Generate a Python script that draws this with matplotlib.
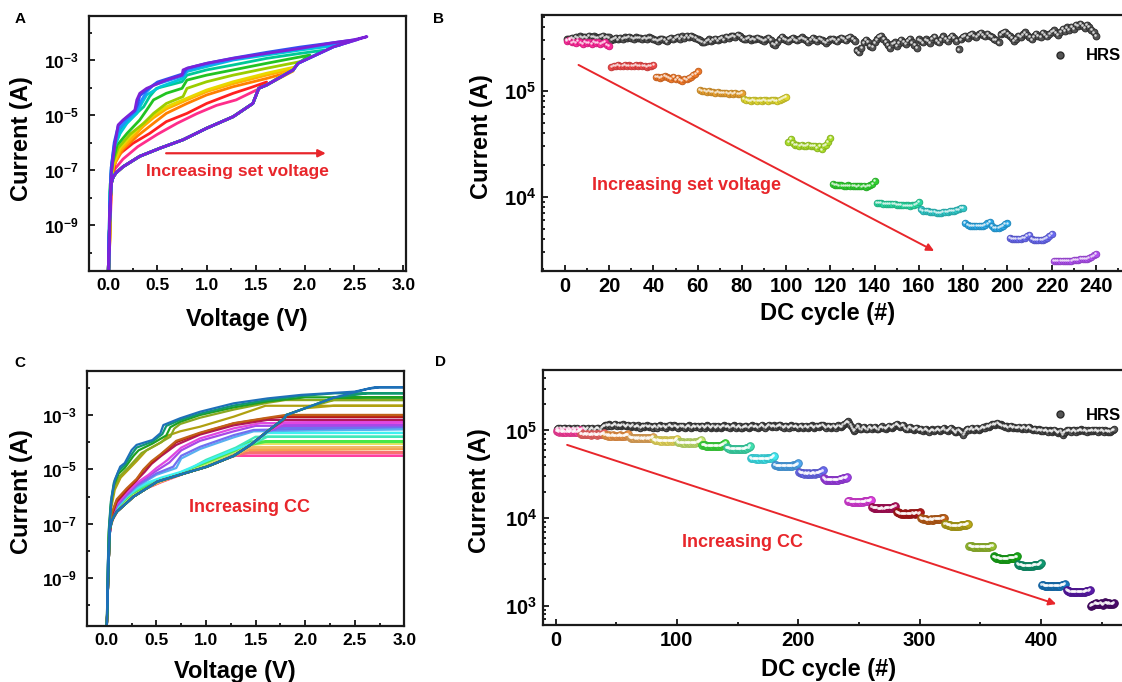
import numpy as np
import matplotlib
matplotlib.use("Agg")
import matplotlib.pyplot as plt
import matplotlib.transforms as mtransforms
import matplotlib.colors as mcolors
from matplotlib.ticker import MultipleLocator, FixedLocator, FuncFormatter, NullFormatter, LogLocator
from matplotlib.lines import Line2D

plt.rcParams['font.family'] = ['Liberation Sans', 'DejaVu Sans']
plt.rcParams['font.weight'] = 'bold'
plt.rcParams['mathtext.fontset'] = 'custom'
plt.rcParams['mathtext.rm'] = 'Liberation Sans:bold'
plt.rcParams['mathtext.bf'] = 'Liberation Sans:bold'
plt.rcParams['mathtext.it'] = 'Liberation Sans:bold'

# ---------------- Panel A data (I-V loops, log10 current) ----------------
A_FWD_V = [0.0, 0.01, 0.02, 0.03, 0.05, 0.08, 0.15, 0.32, 0.53, 0.76, 1.0, 1.27, 1.47, 1.53, 1.61, 1.88, 1.93, 2.29, 2.63]
A_FWD_LOG = [-10.6, -9.3, -8.2, -7.5, -7.25, -7.1, -6.88, -6.5, -6.2, -5.9, -5.48, -5.06, -4.58, -4.03, -3.91, -3.36, -3.12, -2.52, -2.15]
A_COLORS = ['#FF2D8A', '#FF2020', '#FF7F00', '#FFB000', '#E8D800', '#9ACD00',
            '#22C322', '#00C896', '#00C8D8', '#1E90FF', '#3050F0', '#7B22D8']
A_UP_V = [
    [1.53, 1.30, 1.10, 0.90, 0.70, 0.50, 0.30, 0.15, 0.07, 0.03, 0.01],
    [1.61, 1.45, 1.27, 1.0, 0.8, 0.59, 0.42, 0.25, 0.085, 0.034, 0.007],
    [1.88, 1.61, 1.27, 1.0, 0.8, 0.59, 0.46, 0.3, 0.15, 0.06, 0.03, 0.01],
    [1.85, 1.61, 1.27, 1.0, 0.8, 0.59, 0.46, 0.36, 0.25, 0.12, 0.05, 0.025, 0.01],
    [1.90, 1.61, 1.27, 1.0, 0.8, 0.59, 0.46, 0.36, 0.25, 0.12, 0.05, 0.025, 0.01],
    [1.95, 1.61, 1.27, 1.0, 0.8, 0.76, 0.59, 0.46, 0.36, 0.22, 0.1, 0.05, 0.025, 0.01],
    [2.05, 1.61, 1.27, 1.0, 0.8, 0.75, 0.59, 0.46, 0.39, 0.32, 0.19, 0.09, 0.045, 0.02, 0.008],
    [2.20, 1.95, 1.61, 1.27, 1.0, 0.8, 0.75, 0.49, 0.42, 0.36, 0.25, 0.15, 0.07, 0.035, 0.015, 0.005],
    [2.36, 1.95, 1.61, 1.27, 1.0, 0.8, 0.76, 0.53, 0.39, 0.34, 0.29, 0.19, 0.12, 0.06, 0.03, 0.012, 0.005],
    [2.46, 1.95, 1.61, 1.27, 1.0, 0.8, 0.76, 0.46, 0.39, 0.34, 0.29, 0.19, 0.11, 0.06, 0.03, 0.012, 0.004],
    [2.54, 1.95, 1.61, 1.27, 1.0, 0.8, 0.76, 0.5, 0.4, 0.32, 0.3, 0.27, 0.15, 0.1, 0.06, 0.03, 0.012, 0.004],
    [2.63, 2.49, 2.29, 1.95, 1.61, 1.27, 1.0, 0.8, 0.76, 0.75, 0.59, 0.39, 0.32, 0.29, 0.27, 0.15, 0.10, 0.07, 0.03, 0.017, 0.007],
]
A_UP_LOG = [
    [-4.05, -4.45, -4.65, -4.95, -5.3, -5.7, -6.15, -6.6, -6.95, -7.5, -10.0],
    [-3.80, -4.0, -4.21, -4.58, -4.94, -5.24, -5.67, -6.03, -6.5, -7.36, -10.6],
    [-3.40, -3.67, -3.97, -4.27, -4.58, -4.94, -5.3, -5.75, -6.25, -6.8, -7.4, -10.2],
    [-3.35, -3.55, -3.86, -4.15, -4.45, -4.78, -5.1, -5.4, -5.8, -6.3, -6.9, -7.6, -10.4],
    [-3.25, -3.48, -3.79, -4.09, -4.39, -4.7, -5.0, -5.3, -5.67, -6.2, -6.8, -7.5, -10.5],
    [-3.06, -3.3, -3.55, -3.79, -4.03, -4.33, -4.58, -4.94, -5.3, -5.7, -6.2, -6.7, -7.4, -10.5],
    [-2.82, -3.12, -3.36, -3.55, -3.73, -4.03, -4.21, -4.45, -4.82, -5.18, -5.67, -6.1, -6.7, -7.5, -10.6],
    [-2.64, -2.76, -2.94, -3.18, -3.36, -3.55, -3.79, -4.03, -4.33, -4.7, -5.06, -5.42, -6.0, -6.8, -7.8, -10.6],
    [-2.45, -2.64, -2.82, -3.0, -3.24, -3.42, -3.67, -3.97, -4.27, -4.58, -4.94, -5.3, -5.67, -6.2, -7.0, -8.5, -10.6],
    [-2.33, -2.58, -2.76, -2.98, -3.18, -3.36, -3.58, -3.91, -4.15, -4.45, -4.82, -5.18, -5.5, -6.1, -6.9, -8.5, -10.6],
    [-2.25, -2.53, -2.72, -2.93, -3.12, -3.3, -3.5, -3.8, -4.06, -4.3, -4.6, -4.85, -5.2, -5.4, -6.0, -6.9, -8.5, -10.6],
    [-2.15, -2.27, -2.37, -2.58, -2.76, -2.94, -3.12, -3.3, -3.36, -3.55, -3.73, -4.03, -4.21, -4.45, -4.82, -5.18, -5.36, -6.03, -7.12, -8.7, -10.6],
]

# ---------------- Panel C data (I-V with compliance current) ----------------
C_FWD_V = [0.0, 0.01, 0.02, 0.03, 0.05, 0.07, 0.10, 0.27, 0.51, 0.78, 1.01, 1.28, 1.45, 1.62, 1.79, 1.81, 2.0, 2.29, 2.63, 2.75, 3.0]
C_FWD_LOG = [-10.75, -9.5, -8.3, -7.2, -6.9, -6.74, -6.56, -6.0, -5.45, -5.15, -4.9, -4.5, -4.1, -3.6, -3.12, -3.0, -2.75, -2.36, -2.04, -1.98, -1.98]
C_CC_LOG = [-4.50, -4.38, -4.25, -4.18, -4.05, -4.0, -3.97, -3.8, -3.66, -3.52, -3.44,
            -3.37, -3.27, -3.18, -3.06, -3.0, -2.66, -2.45, -2.35, -2.2, -1.98]
C_COLORS = ['#FF40A0', '#F87070', '#F5A050', '#F0B868', '#ECE060', '#C0EC70', '#48E848',
            '#40E8B8', '#40F0F0', '#58B0F0', '#7070F0', '#A848E8', '#E048E0', '#B0185A',
            '#B81818', '#C06018', '#B0A010', '#8AA820', '#20A020', '#109870', '#1E70B8']
C_UP_V = [
    [1.3, 1.1, 0.9, 0.75, 0.55, 0.4, 0.25, 0.12, 0.06, 0.03, 0.01, 0.0],
    [1.3, 1.1, 0.9, 0.75, 0.55, 0.4, 0.25, 0.12, 0.06, 0.03, 0.01, 0.0],
    [1.3, 1.15, 1.0, 0.75, 0.55, 0.4, 0.25, 0.12, 0.06, 0.03, 0.01, 0.0],
    [1.35, 1.2, 1.0, 0.75, 0.55, 0.4, 0.25, 0.12, 0.06, 0.03, 0.01, 0.0],
    [1.4, 1.25, 1.0, 0.75, 0.55, 0.4, 0.25, 0.12, 0.06, 0.03, 0.01, 0.0],
    [1.45, 1.3, 1.0, 0.75, 0.55, 0.4, 0.25, 0.12, 0.06, 0.03, 0.01, 0.0],
    [1.45, 1.3, 1.0, 0.75, 0.55, 0.4, 0.25, 0.12, 0.06, 0.03, 0.01, 0.0],
    [1.5, 1.3, 1.0, 0.75, 0.55, 0.4, 0.3, 0.2, 0.1, 0.05, 0.025, 0.01, 0.0],
    [1.6, 1.45, 1.11, 0.74, 0.55, 0.4, 0.3, 0.2, 0.1, 0.05, 0.025, 0.01, 0.0],
    [1.48, 1.28, 0.94, 0.75, 0.7, 0.5, 0.4, 0.3, 0.2, 0.1, 0.05, 0.025, 0.01, 0.0],
    [1.48, 1.28, 0.94, 0.75, 0.67, 0.5, 0.4, 0.3, 0.2, 0.1, 0.05, 0.025, 0.01, 0.0],
    [1.5, 1.28, 0.94, 0.75, 0.63, 0.5, 0.4, 0.3, 0.2, 0.1, 0.05, 0.025, 0.01, 0.0],
    [1.55, 1.28, 0.94, 0.75, 0.61, 0.5, 0.42, 0.3, 0.2, 0.1, 0.05, 0.025, 0.01, 0.0],
    [1.62, 1.28, 0.94, 0.7, 0.55, 0.45, 0.38, 0.3, 0.2, 0.1, 0.05, 0.025, 0.01, 0.0],
    [1.79, 1.62, 1.28, 0.94, 0.7, 0.54, 0.45, 0.37, 0.3, 0.2, 0.1, 0.05, 0.025, 0.01, 0.0],
    [1.8, 1.62, 1.28, 0.94, 0.7, 0.54, 0.45, 0.37, 0.3, 0.2, 0.1, 0.05, 0.025, 0.01, 0.0],
    [1.6, 1.28, 0.94, 0.74, 0.62, 0.55, 0.4, 0.3, 0.22, 0.14, 0.08, 0.04, 0.02, 0.008, 0.0],
    [1.8, 1.62, 1.28, 0.94, 0.74, 0.68, 0.64, 0.5, 0.35, 0.3, 0.2, 0.13, 0.07, 0.04, 0.02, 0.008, 0.0],
    [2.0, 1.62, 1.28, 0.94, 0.74, 0.64, 0.6, 0.46, 0.32, 0.27, 0.18, 0.12, 0.07, 0.04, 0.02, 0.008, 0.0],
    [2.3, 1.96, 1.62, 1.28, 0.94, 0.74, 0.6, 0.56, 0.46, 0.3, 0.26, 0.18, 0.12, 0.07, 0.04, 0.02, 0.008, 0.0],
    [2.7, 2.5, 1.96, 1.62, 1.28, 0.94, 0.74, 0.57, 0.54, 0.46, 0.30, 0.25, 0.18, 0.135, 0.08, 0.05, 0.03, 0.01, 0.0],
]
C_UP_LOG = [
    [-4.5, -4.72, -5.0, -5.2, -5.47, -5.7, -6.0, -6.45, -6.85, -7.2, -9.3, -10.75],
    [-4.38, -4.65, -4.95, -5.18, -5.46, -5.7, -6.0, -6.45, -6.85, -7.2, -9.3, -10.75],
    [-4.3, -4.55, -4.87, -5.18, -5.45, -5.68, -5.98, -6.43, -6.83, -7.2, -9.3, -10.75],
    [-4.2, -4.5, -4.85, -5.17, -5.44, -5.67, -5.97, -6.42, -6.82, -7.2, -9.3, -10.75],
    [-4.05, -4.4, -4.82, -5.15, -5.42, -5.65, -5.95, -6.4, -6.8, -7.2, -9.3, -10.75],
    [-4.0, -4.35, -4.8, -5.12, -5.4, -5.62, -5.92, -6.38, -6.78, -7.2, -9.3, -10.75],
    [-3.97, -4.3, -4.75, -5.1, -5.38, -5.6, -5.9, -6.35, -6.75, -7.2, -9.3, -10.75],
    [-3.8, -4.2, -4.65, -5.15, -5.35, -5.55, -5.75, -6.02, -6.45, -6.85, -7.5, -9.3, -10.75],
    [-3.6, -4.04, -4.53, -5.1, -5.3, -5.5, -5.7, -6.0, -6.4, -6.85, -7.5, -9.3, -10.75],
    [-3.6, -3.82, -4.25, -4.6, -4.95, -5.2, -5.42, -5.65, -5.98, -6.38, -6.8, -7.5, -9.3, -10.75],
    [-3.55, -3.74, -4.17, -4.5, -4.9, -5.15, -5.38, -5.6, -5.95, -6.35, -6.8, -7.5, -9.3, -10.75],
    [-3.4, -3.6, -3.95, -4.3, -4.75, -5.05, -5.3, -5.55, -5.9, -6.3, -6.75, -7.5, -9.3, -10.75],
    [-3.3, -3.49, -3.86, -4.2, -4.66, -4.95, -5.2, -5.5, -5.85, -6.25, -6.7, -7.5, -9.3, -10.75],
    [-3.18, -3.38, -3.72, -4.1, -4.5, -4.8, -5.1, -5.4, -5.78, -6.2, -6.7, -7.5, -9.3, -10.75],
    [-3.04, -3.12, -3.31, -3.67, -4.0, -4.47, -4.75, -5.02, -5.39, -5.75, -6.15, -6.65, -7.5, -9.3, -10.75],
    [-3.0, -3.1, -3.3, -3.65, -3.95, -4.45, -4.7, -5.0, -5.35, -5.7, -6.1, -6.6, -7.5, -9.3, -10.75],
    [-2.66, -3.06, -3.43, -3.6, -3.75, -4.0, -4.3, -4.7, -5.0, -5.3, -5.75, -6.5, -7.5, -9.3, -10.75],
    [-2.45, -2.55, -2.8, -3.1, -3.33, -3.5, -3.8, -4.1, -4.4, -4.6, -5.0, -5.25, -5.7, -6.4, -7.4, -9.2, -10.75],
    [-2.35, -2.5, -2.72, -3.0, -3.25, -3.45, -3.75, -4.05, -4.3, -4.5, -4.95, -5.15, -5.6, -6.3, -7.3, -9.0, -10.75],
    [-2.2, -2.3, -2.45, -2.65, -2.95, -3.18, -3.4, -3.7, -3.98, -4.2, -4.4, -4.85, -5.05, -5.5, -6.2, -7.2, -8.8, -10.75],
    [-1.98, -2.14, -2.26, -2.39, -2.57, -2.88, -3.12, -3.37, -3.67, -3.92, -4.1, -4.29, -4.77, -4.9, -5.39, -6.0, -6.9, -8.5, -10.75],
]

# ---------------- Panel B data (resistance vs DC cycle) ----------------
B_HRS_E5 = [
    3.05, 3.10, 3.15, 3.08, 3.20, 3.12, 3.25, 3.18, 3.22, 3.15, 3.28, 3.20, 3.25, 3.18, 3.12, 3.20, 3.26, 3.15, 3.22, 3.18,
    3.02, 3.08, 3.12, 3.05, 3.15, 3.10, 3.18, 3.12, 3.20, 3.15, 3.10, 3.18, 3.12, 3.16, 3.08, 3.14, 3.10, 3.18, 3.12, 3.05,
    3.00, 2.95, 3.05, 3.10, 3.02, 2.92, 3.08, 3.15, 3.05, 3.12, 3.20, 3.10, 3.25, 3.15, 3.28, 3.18, 3.30, 3.22, 3.12, 3.05,
    2.98, 2.90, 2.85, 2.95, 3.05, 2.92, 3.02, 3.10, 2.98, 3.08, 3.15, 3.05, 3.20, 3.12, 3.25, 3.30, 3.20, 3.35, 3.28, 3.15,
    3.05, 3.10, 3.15, 3.00, 3.10, 3.05, 3.15, 3.08, 3.02, 2.95, 3.05, 3.12, 3.00, 2.75, 2.70, 2.85, 3.05, 3.20, 3.10, 3.02,
    2.95, 3.05, 3.15, 3.05, 2.98, 3.10, 3.18, 3.08, 3.00, 2.90, 3.02, 3.12, 3.05, 2.95, 3.08, 3.00, 2.92, 2.80, 2.95, 3.05,
    3.10, 3.00, 2.92, 3.05, 3.15, 3.08, 2.98, 3.12, 3.20, 3.10, 2.95, 2.40, 2.30, 2.55, 2.85, 3.00, 2.90, 2.65, 2.60, 2.85,
    3.05, 3.20, 3.30, 3.10, 2.90, 2.70, 2.55, 2.75, 2.85, 2.65, 2.80, 3.00, 2.90, 2.75, 2.95, 3.10, 2.85, 2.70, 2.55, 3.05,
    2.95, 2.85, 3.05, 2.95, 2.80, 3.10, 3.20, 2.95, 2.85, 3.05, 3.25, 3.10, 2.95, 3.15, 3.30, 3.15, 2.95, 2.45, 3.05, 3.20,
    3.30, 3.15, 3.35, 3.45, 3.30, 3.20, 3.40, 3.50, 3.35, 3.25, 3.45, 3.30, 3.20, 3.05, 3.00, 2.85, 3.40, 3.50, 3.60, 3.45,
    3.30, 3.15, 2.95, 3.10, 3.30, 3.20, 3.40, 3.55, 3.35, 3.20, 3.05, 3.25, 3.45, 3.30, 3.20, 3.50, 3.40, 3.25, 3.45, 3.60,
    3.70, 3.50, 3.35, 3.60, 3.80, 3.65, 3.95, 3.75, 4.00, 3.85, 4.20, 4.05, 4.30, 4.10, 3.90, 4.15, 4.00, 3.75, 3.55, 3.30,
]
B_LRS_E3 = [
    295, 300, 285, 290, 280, 295, 285, 275, 290, 280, 285, 275, 290, 280, 285, 275, 280, 290, 270, 265,
    168, 172, 170, 175, 172, 170, 174, 171, 173, 170, 172, 175, 171, 173, 170, 172, 168, 171, 170, 176,
    134, 136, 133, 135, 138, 134, 132, 130, 135, 128, 131, 126, 124, 130, 128, 133, 136, 140, 145, 152,
    101, 100, 99, 98, 99, 97, 98, 96, 97, 95, 96, 95, 96, 94, 95, 94, 95, 94, 94, 95,
    84, 82, 81, 80, 82, 81, 80, 81, 80, 82, 81, 80, 81, 82, 81, 80, 82, 83, 85, 87,
    33, 35, 32, 31, 31, 30, 31, 30, 30, 31, 30, 30, 30, 29, 30, 28, 30, 31, 33, 36,
    13.2, 13.0, 12.9, 12.8, 12.8, 12.7, 12.7, 12.8, 12.6, 12.6, 12.7, 12.5, 12.6, 12.5, 12.6, 12.4, 12.6, 12.8, 13.2, 14.2,
    8.8, 8.7, 8.7, 8.6, 8.6, 8.6, 8.5, 8.5, 8.5, 8.4, 8.4, 8.4, 8.3, 8.3, 8.3, 8.2, 8.3, 8.4, 8.6, 8.9,
    7.6, 7.4, 7.3, 7.3, 7.2, 7.2, 7.2, 7.1, 7.1, 7.1, 7.2, 7.2, 7.2, 7.3, 7.3, 7.4, 7.5, 7.6, 7.8, 7.9,
    5.7, 5.4, 5.3, 5.3, 5.3, 5.3, 5.3, 5.3, 5.3, 5.4, 5.6, 5.8, 5.3, 5.1, 5.1, 5.1, 5.2, 5.3, 5.5, 5.6,
    4.1, 4.0, 4.0, 4.0, 4.0, 4.0, 4.1, 4.1, 4.3, 4.4, 4.0, 3.9, 3.9, 3.9, 3.9, 3.9, 4.0, 4.1, 4.3, 4.5,
    2.5, 2.5, 2.5, 2.5, 2.5, 2.5, 2.5, 2.5, 2.5, 2.55, 2.55, 2.55, 2.6, 2.6, 2.6, 2.6, 2.65, 2.7, 2.8, 2.9,
]
B_COLORS = ['#FF2A9A', '#F04848', '#F07828', '#E8A030', '#E0D830', '#A8DC28',
            '#30D030', '#28D8A0', '#30C8C8', '#28A8E8', '#6868F0', '#B050F0']

# ---------------- Panel D data ----------------
D_HRS_E3 = [
    104, 106, 103, 107, 105, 102, 106, 108, 104, 103, 107, 105, 102, 104, 106, 103, 105, 107, 104, 102,
    103, 105, 107, 104, 102, 105, 106, 103, 104, 107, 105, 102, 104, 106, 108, 105, 103, 106, 109, 112,
    114, 116, 113, 117, 115, 112, 114, 116, 118, 115, 113, 116, 114, 112, 115, 117, 114, 111, 113, 115,
    112, 110, 113, 115, 111, 109, 112, 114, 110, 108, 111, 113, 110, 112, 114, 111, 109, 112, 110, 108,
    111, 113, 110, 108, 112, 114, 111, 109, 113, 110, 108, 111, 113, 115, 112, 109, 111, 114, 112, 110,
    108, 111, 113, 110, 112, 109, 107, 110, 112, 114, 111, 108, 110, 113, 111, 109, 112, 110, 108, 111,
    113, 110, 108, 111, 114, 112, 109, 107, 110, 113, 111, 108, 110, 112, 109, 107, 110, 112, 114, 111,
    109, 112, 110, 107, 109, 112, 114, 111, 108, 110, 113, 111, 108, 106, 109, 111, 113, 110, 108, 110,
    112, 114, 111, 109, 112, 110, 107, 109, 112, 115, 112, 110, 108, 111, 113, 116, 113, 110, 112, 114,
    111, 109, 112, 114, 116, 113, 110, 108, 111, 113, 110, 108, 111, 114, 112, 109, 111, 113, 110, 108,
    110, 113, 111, 108, 110, 112, 109, 107, 110, 112, 114, 111, 108, 110, 113, 111, 109, 112, 114, 116,
    113, 110, 108, 111, 113, 110, 107, 109, 112, 110, 108, 111, 114, 112, 109, 111, 115, 118, 121, 124,
    127, 122, 116, 110, 104, 98, 102, 108, 113, 109, 105, 103, 106, 110, 108, 105, 103, 107, 109, 106,
    104, 107, 110, 108, 105, 103, 106, 109, 111, 108, 106, 104, 107, 110, 112, 109, 107, 110, 113, 116,
    118, 115, 112, 110, 113, 116, 112, 108, 105, 103, 106, 109, 107, 104, 102, 105, 108, 106, 103, 101,
    104, 102, 99, 101, 104, 102, 99, 97, 100, 103, 101, 98, 100, 103, 105, 102, 99, 101, 104, 106,
    103, 100, 98, 101, 104, 106, 103, 100, 97, 95, 98, 101, 99, 96, 93, 89, 95, 100, 103, 105,
    102, 104, 106, 103, 101, 104, 107, 105, 102, 104, 107, 109, 106, 108, 111, 113, 110, 112, 115, 117,
    119, 116, 118, 121, 118, 115, 117, 114, 112, 110, 113, 111, 108, 110, 112, 109, 107, 110, 108, 106,
    108, 110, 107, 105, 108, 110, 106, 104, 107, 109, 106, 104, 101, 103, 105, 102, 100, 103, 101, 99,
    101, 98, 100, 102, 99, 97, 100, 98, 96, 99, 101, 98, 96, 94, 97, 99, 95, 88, 93, 97,
    100, 98, 101, 99, 97, 100, 102, 99, 97, 100, 98, 101, 103, 100, 98, 101, 99, 97, 100, 98,
    99, 101, 98, 100, 102, 99, 97, 100, 98, 101, 99, 97, 100, 98, 96, 99, 97, 99, 101, 103,
]
D_LRS_E3 = [
    99, 98, 97, 98, 96, 97, 98, 96, 97, 99, 97, 96, 98, 97, 96, 98, 97, 96, 99, 100,
    92, 91, 90, 91, 92, 90, 91, 90, 89, 91, 90, 91, 90, 89, 90, 91, 90, 91, 92, 93,
    89, 88, 87, 88, 86, 87, 88, 87, 86, 87, 86, 87, 88, 86, 87, 86, 87, 88, 89, 90,
    84, 83, 82, 83, 82, 81, 82, 81, 82, 81, 82, 81, 81, 82, 81, 82, 81, 82, 83, 85,
    79, 78, 77, 78, 77, 76, 77, 76, 77, 76, 77, 76, 76, 77, 76, 77, 76, 77, 78, 80,
    74, 73, 73, 72, 73, 72, 72, 73, 72, 72, 73, 72, 72, 73, 72, 73, 74, 75, 76, 78,
    69, 68, 68, 67, 67, 66, 67, 66, 67, 66, 66, 67, 66, 67, 66, 67, 68, 69, 70, 72,
    64, 63, 63, 62, 62, 62, 62, 61, 62, 62, 61, 62, 62, 61, 62, 62, 63, 63, 64, 66,
    49, 48, 48, 48, 47, 48, 47, 47, 48, 47, 47, 48, 47, 48, 48, 48, 49, 49, 50, 51,
    40.5, 40, 39.5, 39.5, 39, 39.5, 39, 39, 39.5, 39, 39, 39.5, 39, 39.5, 39.5, 40, 40, 40.5, 41, 42,
    33.5, 33, 32.5, 32.5, 32, 32.5, 32, 32, 32.5, 32, 32, 32.5, 32.5, 32, 32.5, 33, 33, 33.5, 34, 35,
    28.5, 28, 27.5, 27.5, 27, 27.5, 27, 27, 27.5, 27, 27, 27.5, 27.5, 28, 28, 28, 28.5, 28.5, 29, 29.5,
    15.8, 15.6, 15.5, 15.4, 15.4, 15.3, 15.4, 15.3, 15.4, 15.3, 15.3, 15.4, 15.4, 15.5, 15.5, 15.6, 15.6, 15.7, 15.9, 16.1,
    13.4, 13.2, 13.1, 13.0, 13.0, 12.9, 12.9, 12.9, 13.0, 12.9, 12.9, 13.0, 13.0, 13.1, 13.1, 13.2, 13.2, 13.3, 13.5, 13.7,
    11.8, 11.6, 11.4, 11.3, 11.2, 11.2, 11.1, 11.3, 11.2, 11.1, 11.2, 11.3, 11.2, 11.4, 11.3, 11.2, 11.4, 11.5, 11.3, 11.6,
    10.0, 9.9, 9.8, 9.7, 9.7, 9.6, 9.6, 9.6, 9.7, 9.6, 9.6, 9.7, 9.7, 9.7, 9.8, 9.8, 9.8, 9.9, 10.0, 10.1,
    8.6, 8.5, 8.4, 8.3, 8.3, 8.2, 8.2, 8.2, 8.2, 8.2, 8.2, 8.2, 8.2, 8.3, 8.3, 8.3, 8.3, 8.4, 8.5, 8.6,
    4.85, 4.8, 4.75, 4.7, 4.7, 4.65, 4.65, 4.65, 4.65, 4.65, 4.65, 4.65, 4.65, 4.7, 4.7, 4.7, 4.7, 4.75, 4.8, 4.85,
    3.65, 3.6, 3.55, 3.5, 3.5, 3.45, 3.45, 3.45, 3.45, 3.45, 3.45, 3.45, 3.45, 3.5, 3.5, 3.5, 3.5, 3.55, 3.6, 3.65,
    3.0, 2.95, 2.9, 2.9, 2.85, 2.85, 2.85, 2.85, 2.85, 2.85, 2.85, 2.85, 2.85, 2.9, 2.9, 2.9, 2.95, 2.95, 3.0, 3.05,
    1.74, 1.72, 1.7, 1.69, 1.68, 1.68, 1.67, 1.67, 1.67, 1.67, 1.67, 1.68, 1.68, 1.68, 1.69, 1.7, 1.71, 1.72, 1.74, 1.77,
    1.5, 1.48, 1.46, 1.45, 1.44, 1.44, 1.43, 1.43, 1.43, 1.43, 1.43, 1.44, 1.44, 1.44, 1.45, 1.45, 1.46, 1.47, 1.48, 1.5,
    1.0, 1.02, 1.03, 1.05, 1.07, 1.06, 1.04, 1.06, 1.08, 1.05, 1.03, 1.06, 1.09, 1.07, 1.05, 1.08, 1.06, 1.04, 1.05, 1.07,
]
D_COLORS = ['#FF40A0', '#F76A6A', '#F59A4A', '#F0B060', '#F0E060', '#C8E870', '#40E040',
            '#40E0B0', '#40E8F0', '#50A8F0', '#6A6AF0', '#A040E8', '#E040E0', '#B0105A',
            '#B01818', '#C06018', '#B8A818', '#98C030', '#18A818', '#109870', '#1878C0',
            '#5A1AAA', '#4A0A6A']
GROUP = 20

RED = '#E8262B'
HRS_FACE = '#555555'
HRS_EDGE = '#2A2A2A'

W, H = 1122, 682
fig = plt.figure(figsize=(W / 100, H / 100), dpi=100)

def px_axes(left, top, right, bottom):
    return fig.add_axes([left / W, 1 - bottom / H, (right - left) / W, (bottom - top) / H])

axA = px_axes(89, 16, 406, 271)
axB = px_axes(542, 15, 1129, 271)
axC = px_axes(87.3, 370.7, 404.3, 625.7)
axD = px_axes(543, 370, 1126, 625)

def sci_fmt(v, pos):
    return r'$\mathbf{10^{%d}}$' % int(round(np.log10(v)))

def style_axes(ax, xsize, ysize, xpad, ypad):
    for sp in ax.spines.values():
        sp.set_linewidth(1.6)
        sp.set_color('#1a1a1a')
    ax.tick_params(which='both', direction='in', top=False, right=False, width=1.2)
    ax.tick_params(which='major', length=4.5)
    ax.tick_params(which='minor', length=2.5)
    ax.tick_params(axis='x', labelsize=xsize, pad=xpad)
    ax.tick_params(axis='y', labelsize=ysize, pad=ypad)

# ---------- Panel A ----------
for k in range(len(A_UP_V)):
    vmax = A_UP_V[k][0]
    fv = [v for v in A_FWD_V if v < vmax]
    fl = A_FWD_LOG[:len(fv)]
    xs = np.array(fv + A_UP_V[k])
    ys = 10.0 ** np.array(fl + A_UP_LOG[k])
    axA.plot(xs, ys, color=A_COLORS[k], lw=2.0, solid_joinstyle='round')
axA.set_yscale('log')
axA.set_xlim(-0.196, 3.027)
axA.set_ylim(10 ** -10.67, 10 ** -1.4)

# ---------- Panel C ----------
for k in range(len(C_CC_LOG)):
    cc = C_CC_LOG[k]
    fwd = np.minimum(np.array(C_FWD_LOG), cc)
    up = np.minimum(np.array([cc] + C_UP_LOG[k]), cc)
    xs = np.concatenate([C_FWD_V, [3.0] + C_UP_V[k]])
    ys = 10.0 ** np.concatenate([fwd, up])
    axC.plot(xs, ys, color=C_COLORS[k], lw=1.6, solid_joinstyle='round')
axC.set_yscale('log')
axC.set_xlim(-0.197, 3.0)
axC.set_ylim(10 ** -10.75, 10 ** -1.37)

for ax in (axA, axC):
    style_axes(ax, 12.5, 12.5, 5, 7.5)
    ax.xaxis.set_major_locator(MultipleLocator(0.5))
    ax.xaxis.set_minor_locator(MultipleLocator(0.25))
    ax.yaxis.set_major_locator(FixedLocator([1e-9, 1e-7, 1e-5, 1e-3]))
    ax.yaxis.set_minor_locator(FixedLocator([1e-10, 1e-8, 1e-6, 1e-4, 1e-2]))
    ax.yaxis.set_major_formatter(FuncFormatter(sci_fmt))
    ax.yaxis.set_minor_formatter(NullFormatter())
    ax.xaxis.set_major_formatter(FuncFormatter(lambda v, p: '%.1f' % v))

axA.set_xlabel('Voltage (V)', fontsize=17, fontweight='bold', va='top')
axA.xaxis.set_label_coords(0.497, -0.145)
axA.set_ylabel('Current (A)', fontsize=17, fontweight='bold')
axA.yaxis.set_label_coords(-0.177, 0.518)
axC.set_xlabel('Voltage (V)', fontsize=17, fontweight='bold', va='top')
axC.xaxis.set_label_coords(0.466, -0.135)
axC.set_ylabel('Current (A)', fontsize=17, fontweight='bold')
axC.yaxis.set_label_coords(-0.171, 0.525)

axA.annotate('', xy=(2.24, 10 ** -6.39), xytext=(0.56, 10 ** -6.39),
             arrowprops=dict(arrowstyle='-|>', color=RED, lw=1.6, mutation_scale=11))
axA.text(1.31, 10 ** -7.06, 'Increasing set voltage', color=RED, fontsize=12.5,
         fontweight='bold', ha='center', va='center')
axC.text(1.44, 10 ** -6.42, 'Increasing CC', color=RED, fontsize=13,
         fontweight='bold', ha='center', va='center')

# ---------- bead scatter helper ----------
def beads(ax, x, y, color, s, dark=0.82):
    rgb = np.array(mcolors.to_rgb(color))
    edge = tuple(rgb * dark)
    ax.scatter(x, y, s=s, color=color, edgecolors=[edge], linewidths=0.7, zorder=3)
    tr = mtransforms.offset_copy(ax.transData, fig=fig, x=-0.6, y=0.6, units='points')
    ax.scatter(x, y, s=s * 0.14, color='white', alpha=0.8, linewidths=0, transform=tr, zorder=4)

# ---------- Panel B ----------
nB = len(B_HRS_E5)
cycB = np.arange(1, nB + 1)
beads(axB, cycB, np.array(B_HRS_E5) * 1e5, HRS_FACE, 24, dark=0.55)
lrsB = np.array(B_LRS_E3) * 1e3
for g in range(len(B_COLORS)):
    sl = slice(g * GROUP, (g + 1) * GROUP)
    beads(axB, cycB[sl], lrsB[sl], B_COLORS[g], 22)
axB.set_yscale('log')
axB.set_xlim(-10.4, 255)
axB.set_ylim(10 ** 3.30, 10 ** 5.714)

# ---------- Panel D ----------
nD = len(D_HRS_E3)
cycD = np.arange(1, nD + 1)
beads(axD, cycD, np.array(D_HRS_E3) * 1e3, HRS_FACE, 22, dark=0.55)
lrsD = np.array(D_LRS_E3) * 1e3
for g in range(len(D_COLORS)):
    sl = slice(g * GROUP, (g + 1) * GROUP)
    beads(axD, cycD[sl], lrsD[sl], D_COLORS[g], 30)
axD.set_yscale('log')
axD.set_xlim(-10.3, 470)
axD.set_ylim(10 ** 2.78, 10 ** 5.69)

for ax, major, minor in ((axB, 20, 10), (axD, 100, 50)):
    style_axes(ax, 14.5, 14.5, 4, 4)
    ax.xaxis.set_major_locator(MultipleLocator(major))
    ax.xaxis.set_minor_locator(MultipleLocator(minor))
    ax.yaxis.set_major_locator(LogLocator(base=10, numticks=10))
    ax.yaxis.set_minor_locator(LogLocator(base=10, subs=np.arange(2, 10), numticks=20))
    ax.yaxis.set_major_formatter(FuncFormatter(sci_fmt))
    ax.yaxis.set_minor_formatter(NullFormatter())
    ax.set_xlabel('DC cycle (#)', fontsize=17, fontweight='bold', va='top')
    ax.set_ylabel('Current (A)', fontsize=17, fontweight='bold')
    hrs_handle = Line2D([0], [0], marker='o', ls='none', markerfacecolor=HRS_FACE,
                        markeredgecolor=HRS_EDGE, markersize=5)
    ax.legend([hrs_handle], ['HRS'], loc='center left', frameon=False,
              handlelength=1.0, handletextpad=1.05, borderpad=0, borderaxespad=0,
              prop={'size': 12, 'weight': 'bold'}, bbox_transform=fig.transFigure,
              bbox_to_anchor=(1052 / W, 1 - (56 if ax is axB else 415) / H))

axB.xaxis.set_label_coords(0.486, -0.12)
axB.yaxis.set_label_coords(-0.084, 0.525)
axD.xaxis.set_label_coords(0.49, -0.13)
axD.yaxis.set_label_coords(-0.09, 0.526)

axB.annotate('', xy=(168, 3.0e3), xytext=(5, 1.8e5),
             arrowprops=dict(arrowstyle='-|>', color=RED, lw=1.4, mutation_scale=11))
axB.text(55, 1.29e4, 'Increasing set voltage', color=RED, fontsize=13,
         fontweight='bold', ha='center', va='center')
axD.annotate('', xy=(414.7, 1.02e3), xytext=(7.4, 7.0e4),
             arrowprops=dict(arrowstyle='-|>', color=RED, lw=1.4, mutation_scale=11))
axD.text(154, 5.2e3, 'Increasing CC', color=RED, fontsize=13,
         fontweight='bold', ha='center', va='center')

# panel letters
for lab, x, y in (('A', 20, 19), ('B', 438, 19), ('C', 20, 363), ('D', 440, 362)):
    fig.text(x / W, 1 - y / H, lab, fontsize=11, fontweight='bold', ha='center', va='center')

fig.savefig('out.png', dpi=100)
